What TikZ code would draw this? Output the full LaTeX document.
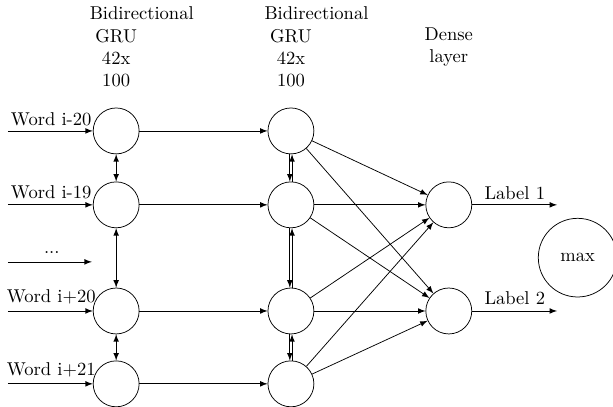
\documentclass[tikz,border=0pt]{standalone}
\begin{document}
\begin{tikzpicture}[>=latex,
  neuron/.style={draw, circle, minimum size=0.87cm, inner sep=0pt},
  header/.style={text width=1cm, align=center}]
\useasboundingbox (0,0) rectangle (11.61,7.69);

\node[header] (h1) at (2.20,6.80) {Bidirectional GRU 42x 100};
\node[header] (h2) at (5.51,6.80) {Bidirectional GRU 42x 100};
\node[header] (h3) at (8.50,6.80) {Dense layer};

\node[neuron] (a1) at (2.20,5.21) {};
\node[neuron] (a2) at (2.20,3.81) {};
\node[neuron] (a3) at (2.20,1.80) {};
\node[neuron] (a4) at (2.20,0.42) {};

\node[neuron] (b1) at (5.51,5.21) {};
\node[neuron] (b2) at (5.51,3.81) {};
\node[neuron] (b3) at (5.51,1.80) {};
\node[neuron] (b4) at (5.51,0.42) {};

\node[neuron] (d1) at (8.50,3.81) {};
\node[neuron] (d2) at (8.50,1.80) {};

\node[draw, circle, minimum size=1.49cm] (m) at (10.94,2.81) {max};

\node (w1) at (0.97,5.44) {Word i-20};
\node (w2) at (0.97,4.05) {Word i-19};
\node (dots) at (0.98,2.90) {...};
\node (w3) at (0.97,2.06) {Word i+20};
\node (w4) at (0.97,0.69) {Word i+21};

\node (l1) at (9.75,4.03) {Label 1};
\node (l2) at (9.75,2.05) {Label 2};

\coordinate (i1) at (0.15,5.21);
\coordinate (i2) at (0.15,3.81);
\coordinate (i3) at (0.15,1.80);
\coordinate (i4) at (0.15,0.42);
\coordinate (i0) at (0.15,2.73);
\coordinate (e0) at (1.74,2.73);
\coordinate (o1) at (10.55,3.81);
\coordinate (o2) at (10.55,1.80);

\path[draw,->] (i1) -- (a1);
\path[draw,->] (i2) -- (a2);
\path[draw,->] (i0) -- (e0);
\path[draw,->] (i3) -- (a3);
\path[draw,->] (i4) -- (a4);

\path[draw,<->] (a1) -- (a2);
\path[draw,<->] (a2) -- (a3);
\path[draw,<->] (a3) -- (a4);

\path[draw,->] (a1) -- (b1);
\path[draw,->] (a2) -- (b2);
\path[draw,->] (a3) -- (b3);
\path[draw,->] (a4) -- (b4);

\path[draw,->] ([xshift=-0.6pt]b1.south) -- ([xshift=-0.6pt]b2.north);
\path[draw,->] ([xshift=0.6pt]b2.north) -- ([xshift=0.6pt]b1.south);
\path[draw,->] ([xshift=-0.6pt]b2.south) -- ([xshift=-0.6pt]b3.north);
\path[draw,->] ([xshift=0.6pt]b3.north) -- ([xshift=0.6pt]b2.south);
\path[draw,->] ([xshift=-0.6pt]b3.south) -- ([xshift=-0.6pt]b4.north);
\path[draw,->] ([xshift=0.6pt]b4.north) -- ([xshift=0.6pt]b3.south);

\path[draw,->] (b1) -- (d1);
\path[draw,->] (b1) -- (d2);
\path[draw,->] (b2) -- (d1);
\path[draw,->] (b2) -- (d2);
\path[draw,->] (b3) -- (d1);
\path[draw,->] (b3) -- (d2);
\path[draw,->] (b4) -- (d1);
\path[draw,->] (b4) -- (d2);

\path[draw,->] (d1) -- (o1);
\path[draw,->] (d2) -- (o2);
\end{tikzpicture}
\end{document}
